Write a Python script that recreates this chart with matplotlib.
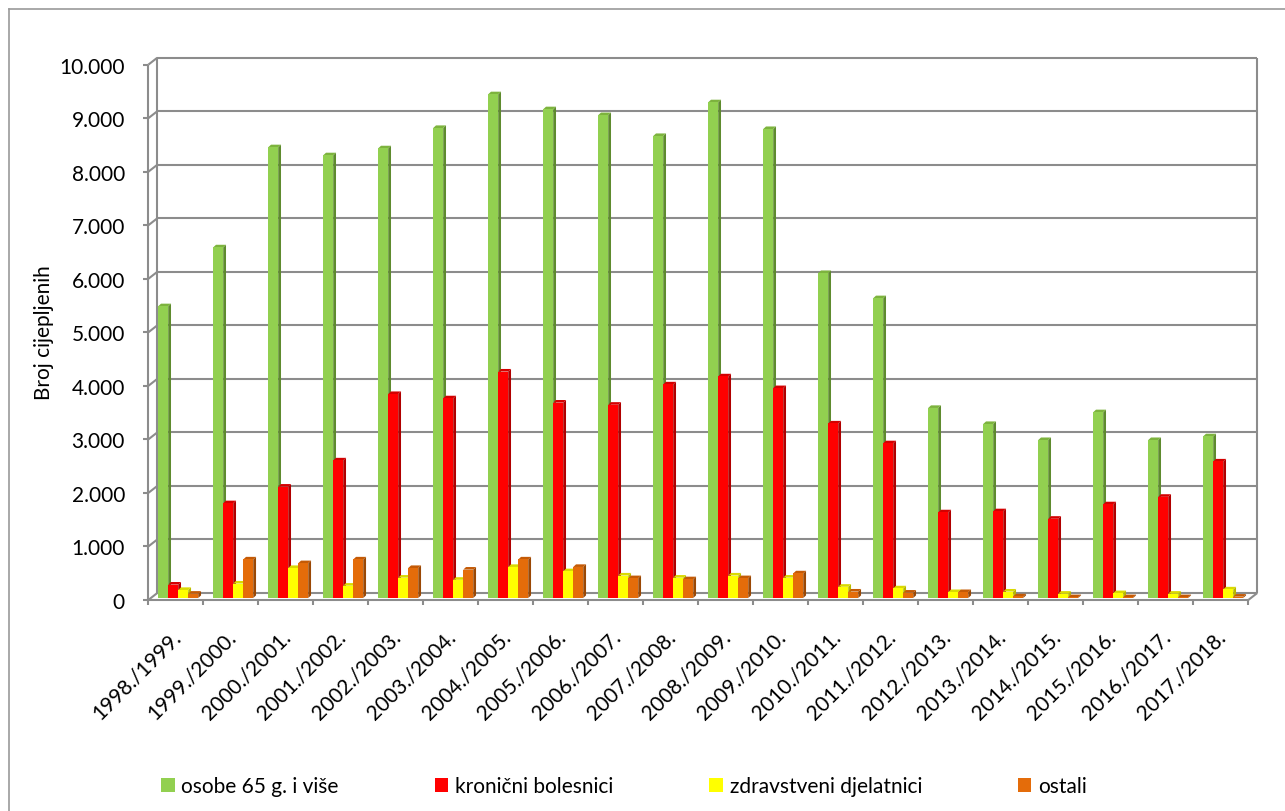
import matplotlib
matplotlib.use("Agg")
import matplotlib.pyplot as plt
from matplotlib.patches import Polygon, Patch
from matplotlib.lines import Line2D
import matplotlib.transforms as mtransforms

# ---------------- data ----------------
seasons = ["1998./1999.", "1999./2000.", "2000./2001.", "2001./2002.", "2002./2003.",
           "2003./2004.", "2004./2005.", "2005./2006.", "2006./2007.", "2007./2008.",
           "2008./2009.", "2009./2010.", "2010./2011.", "2011./2012.", "2012./2013.",
           "2013./2014.", "2014./2015.", "2015./2016.", "2016./2017.", "2017./2018."]
osobe_65 = [5450, 6550, 8420, 8270, 8400, 8780, 9410, 9130, 9020, 8630,
            9260, 8760, 6070, 5600, 3550, 3250, 2950, 3470, 2950, 3020]
kronicni = [250, 1770, 2080, 2570, 3810, 3730, 4230, 3650, 3610, 3990,
            4140, 3920, 3260, 2890, 1600, 1620, 1480, 1750, 1890, 2550]
zdravstveni = [150, 270, 560, 230, 380, 340, 580, 500, 420, 380,
               420, 380, 210, 180, 110, 120, 80, 90, 80, 160]
ostali = [80, 720, 650, 720, 560, 530, 720, 580, 370, 350,
          370, 460, 120, 100, 110, 30, 15, 15, 15, 25]
series_names = ["osobe 65 g. i više", "kronični bolesnici", "zdravstveni djelatnici", "ostali"]
yticks = list(range(0, 10001, 1000))
ytick_labels = ["0", "1.000", "2.000", "3.000", "4.000", "5.000",
                "6.000", "7.000", "8.000", "9.000", "10.000"]
ylabel = "Broj cijepljenih"

# ---------------- style ----------------
front_cols = ["#92D050", "#FF0000", "#FFFF00", "#E46C0A"]
side_cols = ["#5E8B2E", "#B00000", "#B8B800", "#9A4805"]
top_cols = ["#7DB33E", "#D40000", "#DADA00", "#C45A06"]
grid_col = "#8C8C8C"
FONT = "Lato"
FS = 15

plt.rcParams["font.family"] = [FONT, "DejaVu Sans"]

W, H = 1285, 812
fig = plt.figure(figsize=(W / 100, H / 100), dpi=100)
x_left, x_right = 148.3, 1248.3
y_zero, y_top = 601, 65.7
ax = fig.add_axes([x_left / W, (H - y_zero) / H, (x_right - x_left) / W, (y_zero - y_top) / H])
ax.set_xlim(0, 20)
ax.set_ylim(0, 10000)
for s in ax.spines.values():
    s.set_visible(False)

# geometry of the pseudo-3D box (in data units)
px_x = 20 / (x_right - x_left)
px_y = 10000 / (y_zero - y_top)
DX, DY = 9 * px_x, 7 * px_y          # back-wall offset
bdx, bdy = 2.8 * px_x, 2.6 * px_y     # bar depth
b0 = 2 * px_y                          # bar base
bw = 0.182
gstart = 0.18

lkw = dict(color=grid_col, lw=1.5, clip_on=False, solid_capstyle="butt")
# back-wall gridlines, left-wall diagonals
for v in yticks:
    ax.plot([DX, 20 + DX], [v + DY, v + DY], zorder=1, **lkw)
    ax.plot([0, DX], [v, v + DY], zorder=1, **lkw)
    ax.plot([-5 * px_x, 0], [v, v], zorder=1, **lkw)
# walls / floor edges
ax.plot([DX, DX], [DY, 10000 + DY], zorder=1, **lkw)
ax.plot([20 + DX, 20 + DX], [DY, 10000 + DY], zorder=1, **lkw)
ax.plot([0, 0], [0, 10000], zorder=1, **lkw)
ax.plot([0, 20], [0, 0], zorder=6, **lkw)
ax.plot([20, 20 + DX], [0, DY], zorder=6, **lkw)
for i in range(21):
    ax.plot([i, i], [0, -5 * px_y], zorder=6, **lkw)

# bars
all_series = [osobe_65, kronicni, zdravstveni, ostali]
z = 2.0
for i in range(len(seasons)):
    for k, vals in enumerate(all_series):
        v = vals[i]
        x0 = i + gstart + k * bw
        top = b0 + v
        ax.bar(x0, v, width=bw, bottom=b0, align="edge", color=front_cols[k],
               linewidth=0, zorder=z + 0.2)
        side = Polygon([(x0 + bw, b0), (x0 + bw, top), (x0 + bw + bdx, top + bdy),
                        (x0 + bw + bdx, b0 + bdy)], closed=True, facecolor=side_cols[k],
                       edgecolor="none", zorder=z + 0.1)
        cap = Polygon([(x0, top), (x0 + bw, top), (x0 + bw + bdx, top + bdy),
                       (x0 + bdx, top + bdy)], closed=True, facecolor=top_cols[k],
                      edgecolor="none", zorder=z + 0.1)
        ax.add_patch(side)
        ax.add_patch(cap)
        z += 0.01

# ticks and labels
ax.set_yticks(yticks)
ax.set_yticklabels(ytick_labels, fontsize=FS, color="black")
ax.tick_params(axis="y", length=0, pad=16.8)
ax.set_xticks([i + 0.5 for i in range(len(seasons))])
ax.set_xticklabels(seasons, rotation=45, ha="right", va="center",
                   rotation_mode="anchor", fontsize=FS)
ax.tick_params(axis="x", length=0, pad=24)
shift = mtransforms.ScaledTranslation(2 / 100, 0, fig.dpi_scale_trans)
for lab in ax.get_xticklabels():
    lab.set_transform(lab.get_transform() + shift)

fig.text(44 / W, 1 - 333 / H, ylabel, rotation=90, ha="center", va="center", fontsize=FS)

# legend
handles = [Patch(facecolor=c, edgecolor="none") for c in front_cols]
fig.legend(handles, series_names, loc="center left", bbox_to_anchor=(161 / W, 1 - 787 / H),
           ncol=4, frameon=False, fontsize=FS, handlelength=0.65, handleheight=0.65,
           handletextpad=0.33, columnspacing=4.6, borderaxespad=0, borderpad=0)

# outer chart border
fig.add_artist(Line2D([9 / W, 9 / W], [0, 1 - 10 / H], transform=fig.transFigure,
                      color="#9A9A9A", lw=1.2))
fig.add_artist(Line2D([9 / W, 1], [1 - 10 / H, 1 - 10 / H], transform=fig.transFigure,
                      color="#9A9A9A", lw=1.2))

fig.savefig("out.png", dpi=100, facecolor="white")
